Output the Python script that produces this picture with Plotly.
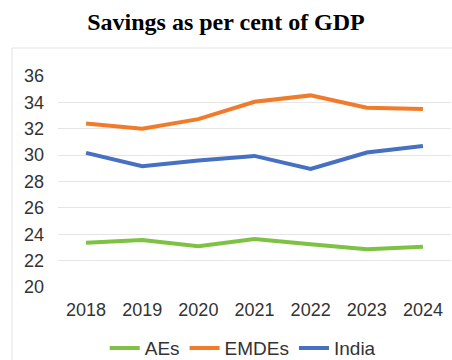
import plotly.graph_objects as go

years = ["2018", "2019", "2020", "2021", "2022", "2023", "2024"]
aes = [23.36, 23.57, 23.1, 23.64, 23.24, 22.86, 23.06]
emdes = [32.4, 32.0, 32.73, 34.05, 34.53, 33.6, 33.5]
india = [30.17, 29.16, 29.6, 29.94, 28.95, 30.2, 30.7]

series = [("AEs", aes, "#7DC243"), ("EMDEs", emdes, "#EF7B2B"), ("India", india, "#4670C1")]

fig = go.Figure()
for name, vals, col in series:
    fig.add_trace(go.Scatter(x=years, y=vals, name=name, mode="lines",
                             line=dict(color=col, width=4)))

font = "Liberation Sans, Arial, sans-serif"
fig.update_layout(
    width=452, height=360,
    margin=dict(l=58, r=1, t=76, b=73, autoexpand=False),
    paper_bgcolor="white", plot_bgcolor="white",
    title=dict(text="<b>Savings as per cent of GDP</b>", x=0.5, xanchor="center",
               y=1 - 22/360, yanchor="middle",
               font=dict(family="Liberation Serif, Times New Roman, serif", size=24, color="black")),
    showlegend=True,
    legend=dict(orientation="h", x=0.47, xanchor="center", y=-0.29, yanchor="middle",
                font=dict(family=font, size=19, color="#333333"), itemwidth=30,
                tracegroupgap=0),
    xaxis=dict(type="category", range=[-0.5, 6.5], showgrid=False, showline=False, zeroline=False,
               tickfont=dict(family=font, size=18, color="#333333"),
               ticks="", ticklabelstandoff=10),
    yaxis=dict(range=[20, 36], dtick=2, tick0=20, showgrid=True, gridcolor="#E6E6E6",
               gridwidth=1, zeroline=False, showline=False,
               tickfont=dict(family=font, size=18, color="#333333"),
               ticks="", ticklabelstandoff=13),
)
# light chart-area frame
fig.add_shape(type="rect", xref="paper", yref="paper",
              x0=(12-58)/393, x1=(460-58)/393, y0=(287-370)/211, y1=(287-48)/211,
              line=dict(color="#E3E3E3", width=1), fillcolor="rgba(0,0,0,0)", layer="below")
fig.write_html("out.html")
